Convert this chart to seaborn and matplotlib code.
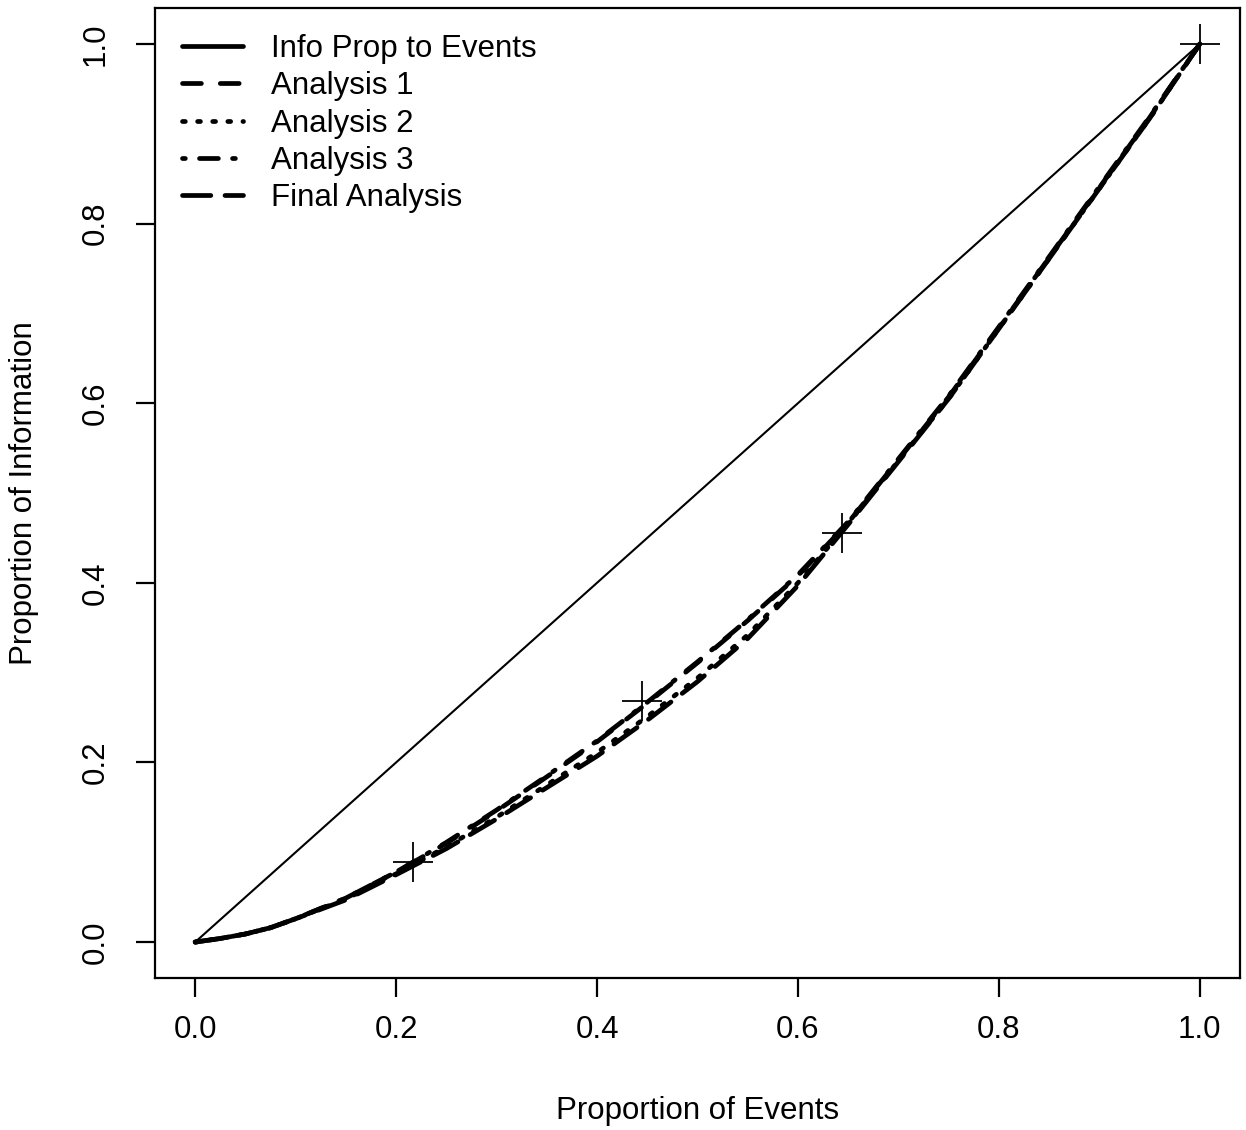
import matplotlib
matplotlib.use("Agg")
import matplotlib.pyplot as plt
from matplotlib.lines import Line2D
import seaborn as sns
import pandas as pd

# ---- data ----
event_prop = [0.0, 0.025, 0.05, 0.075, 0.10, 0.15, 0.20, 0.25, 0.30, 0.35, 0.40, 0.45, 0.50,
              0.55, 0.60, 0.65, 0.70, 0.75, 0.80, 0.85, 0.90, 0.95, 1.0]
info_prop_to_events = [0.0, 1.0]
diag_x = [0.0, 1.0]
analysis1 = [0.0, 0.004, 0.009, 0.016, 0.026, 0.049, 0.078, 0.110, 0.146, 0.184, 0.223, 0.266, 0.311,
             0.358, 0.408, 0.467, 0.537, 0.607, 0.684, 0.762, 0.840, 0.918, 1.0]
analysis2 = [0.0, 0.004, 0.009, 0.016, 0.026, 0.048, 0.076, 0.106, 0.139, 0.175, 0.211, 0.251, 0.294,
             0.342, 0.400, 0.466, 0.536, 0.605, 0.683, 0.761, 0.839, 0.917, 1.0]
analysis3 = [0.0, 0.004, 0.009, 0.016, 0.026, 0.049, 0.078, 0.111, 0.147, 0.185, 0.224, 0.267, 0.312,
             0.359, 0.409, 0.468, 0.538, 0.608, 0.685, 0.763, 0.841, 0.919, 1.0]
final_analysis = [0.0, 0.004, 0.009, 0.016, 0.026, 0.047, 0.075, 0.104, 0.137, 0.172, 0.207, 0.247, 0.290,
                  0.338, 0.397, 0.465, 0.535, 0.605, 0.683, 0.761, 0.839, 0.917, 1.0]
mark_x = [0.217, 0.445, 0.644, 1.0]
mark_y = [0.089, 0.268, 0.456, 1.0]
xticks = [0.0, 0.2, 0.4, 0.6, 0.8, 1.0]
yticks = [0.0, 0.2, 0.4, 0.6, 0.8, 1.0]
legend_labels = ["Info Prop to Events", "Analysis 1", "Analysis 2", "Analysis 3", "Final Analysis"]

sns.set_style("white")
plt.rcParams['font.family'] = ['Liberation Sans', 'DejaVu Sans']
plt.rcParams['text.color'] = 'black'
plt.rcParams['axes.labelcolor'] = 'black'
plt.rcParams['xtick.color'] = 'black'
plt.rcParams['ytick.color'] = 'black'

FS = 22.5

fig = plt.figure(figsize=(12.46, 11.30), dpi=100)
ax = fig.add_axes([155/1246, 1 - 978/1130, (1240-155)/1246, (978-8)/1130])

lw = 3.4
styles = {
    "Analysis 1": (0, (4, 4)),
    "Analysis 2": (0, (0.6, 2.6)),
    "Analysis 3": (0, (0.6, 3, 4, 3)),
    "Final Analysis": (0, (6, 3)),
}
series = {
    "Analysis 1": analysis1,
    "Analysis 2": analysis2,
    "Analysis 3": analysis3,
    "Final Analysis": final_analysis,
}

sns.lineplot(x=diag_x, y=info_prop_to_events, ax=ax, color="black", linewidth=1.5)
for name, ys in series.items():
    df = pd.DataFrame({"x": event_prop, "y": ys})
    sns.lineplot(data=df, x="x", y="y", ax=ax, color="black", linewidth=lw,
                 linestyle=styles[name], dash_capstyle="round", sort=False)

sns.scatterplot(x=mark_x, y=mark_y, ax=ax, marker="+", s=29**2, color="black",
                linewidth=1.3, zorder=5)

ax.set_xlim(-0.04, 1.04)
ax.set_ylim(-0.04, 1.04)
ax.set_xticks(xticks)
ax.set_yticks(yticks)
ax.set_xticklabels([f"{t:.1f}" for t in xticks])
ax.set_yticklabels([f"{t:.1f}" for t in yticks], rotation=90, va="center")
for s in ax.spines.values():
    s.set_visible(True)
    s.set_color("black")
    s.set_linewidth(1.6)
ax.tick_params(axis="both", direction="out", length=14, width=1.6, labelsize=FS,
               colors="black", bottom=True, left=True)
ax.tick_params(axis="x", pad=13)
ax.tick_params(axis="y", pad=18)
ax.set_xlabel("Proportion of Events", fontsize=FS, labelpad=36)
ax.set_ylabel("Proportion of Information", fontsize=FS, labelpad=30)

handles = [Line2D([0], [0], color="black", lw=lw, linestyle="-")]
for name in ["Analysis 1", "Analysis 2", "Analysis 3", "Final Analysis"]:
    handles.append(Line2D([0], [0], color="black", lw=lw, linestyle=styles[name],
                          dash_capstyle="round"))
ax.legend(handles=handles, labels=legend_labels, loc="upper left",
          bbox_to_anchor=(0.025, 0.973), frameon=False, fontsize=FS,
          borderaxespad=0, borderpad=0, handlelength=1.95, handletextpad=0.9,
          labelspacing=0.23)

fig.savefig("out.png", dpi=100)
